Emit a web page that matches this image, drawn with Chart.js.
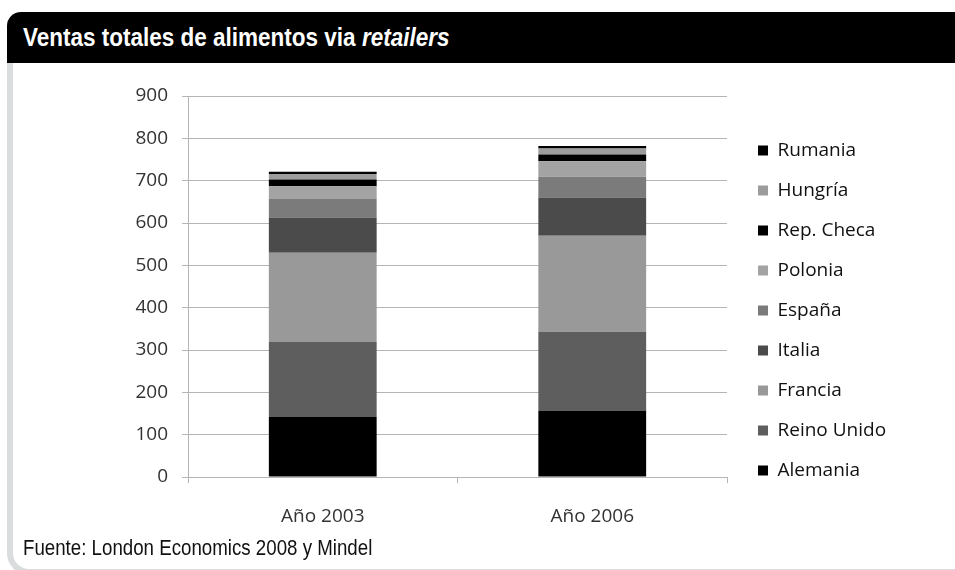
<!DOCTYPE html>
<html lang="es">
<head>
<meta charset="UTF-8">
<title>Ventas totales de alimentos via retailers</title>
<script src="https://cdn.jsdelivr.net/npm/chart.js@4.4.1/dist/chart.umd.min.js"></script>
<style>
  body { margin: 0; width: 955px; height: 570px; background: #fff; position: relative; overflow: hidden; }
  .header {
    position: absolute; left: 7px; top: 12px; width: 948px; height: 51px;
    background: #000; border-top-left-radius: 14px;
  }
  .header span {
    position: absolute; left: 16px; top: 0; line-height: 51px; white-space: nowrap;
    color: #fff; font-family: "Liberation Sans", Arial, sans-serif;
    font-weight: bold; font-size: 25px;
    transform: scaleX(0.9); transform-origin: left center;
  }
  .frame {
    position: absolute; left: 7px; top: 63px; width: 960px; height: 506px;
    border-left: 6px solid #d9dddd; border-bottom: 6px solid #d9dddd;
    border-bottom-left-radius: 22px;
  }
  .source {
    position: absolute; left: 23px; top: 535px; white-space: nowrap;
    font-family: "Liberation Sans", Arial, sans-serif;
    font-size: 22px; color: #111;
    transform: scaleX(0.85); transform-origin: left center;
  }
  #wrap { position: absolute; left: 14px; top: 63px; width: 941px; height: 494px; }
</style>
</head>
<body>
<div class="frame"></div>
<div class="header"><span>Ventas totales de alimentos via <i>retailers</i></span></div>
<div id="wrap"><canvas id="chart"></canvas></div>
<div class="source">Fuente: London Economics 2008 y Mindel</div>

<script>
  const years = ['Año 2003', 'Año 2006'];
  // stacked from the bottom up
  const countries = ['Alemania', 'Reino Unido', 'Francia', 'Italia', 'España', 'Polonia', 'Rep. Checa', 'Hungría', 'Rumania'];
  const ventas2003 = [142, 177, 211, 83, 45, 29, 16, 13, 5];
  const ventas2006 = [156, 187, 227, 90, 49, 37, 16, 14, 6];
  const yTicks = [0, 100, 200, 300, 400, 500, 600, 700, 800, 900];

  const colors = ['#000000', '#5e5e5e', '#999999', '#4b4b4b', '#7b7b7b', '#a3a3a3', '#000000', '#9c9c9c', '#000000'];

  const datasets = countries.map((c, i) => ({
    label: c,
    data: [ventas2003[i], ventas2006[i]],
    backgroundColor: colors[i],
    borderWidth: 0
  }));

  const font = { family: '"Open Sans", sans-serif', size: 19 };
  const gridColor = '#b5b5b5';

  // keeps the legend at a fixed width, nudged right of the plot and up a bit
  const legendPlace = {
    id: 'legendPlace',
    beforeLayout(chart) {
      const lg = chart.legend;
      if (lg && !lg._fixed) {
        const fit = lg.fit;
        lg.fit = function () { fit.call(this); this.width = 228; };
        lg._fixed = true;
      }
    },
    afterLayout(chart) {
      const lg = chart.legend;
      lg.left += 10;
      lg.right += 10;
      lg.top -= 16;
      lg.bottom -= 16;
    }
  };

  new Chart(document.getElementById('chart'), {
    type: 'bar',
    data: { labels: years, datasets: datasets },
    plugins: [legendPlace],
    options: {
      responsive: true,
      maintainAspectRatio: false,
      animation: false,
      layout: { padding: { top: 33, left: 0, right: 0, bottom: 0 } },
      datasets: { bar: { categoryPercentage: 1, barPercentage: 0.4 } },
      plugins: {
        legend: {
          position: 'right',
          reverse: true,
          labels: {
            boxWidth: 10, boxHeight: 10, padding: 21,
            color: '#111', font: font
          }
        },
        tooltip: { enabled: false }
      },
      scales: {
        x: {
          stacked: true,
          grid: { offset: true, drawOnChartArea: false, color: gridColor, tickLength: 6 },
          border: { display: true, color: gridColor },
          ticks: { color: '#333', font: font, padding: 22 },
          afterFit(s) { s.height = 80; }
        },
        y: {
          stacked: true,
          min: 0, max: 900,
          afterBuildTicks(s) { s.ticks = yTicks.map(v => ({ value: v })); },
          grid: { color: gridColor, tickLength: 6 },
          border: { display: true, color: gridColor },
          ticks: { color: '#333', font: font, padding: 14 },
          afterFit(s) { s.width = 174; }
        }
      }
    }
  });
</script>
</body>
</html>
